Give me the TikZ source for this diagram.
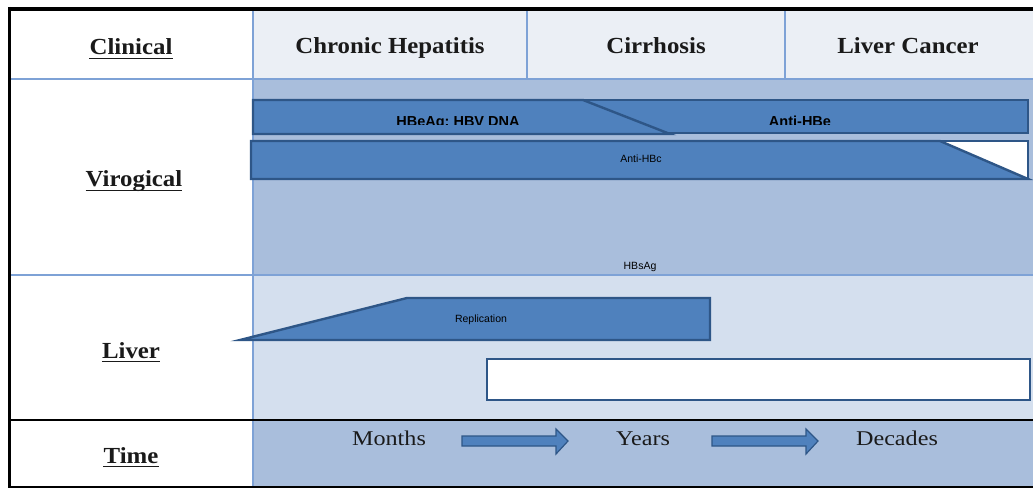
\documentclass[tikz,border=0pt]{standalone}
\usepackage{fontspec}
\setmainfont{Liberation Serif}
\newfontfamily\headfont[FakeStretch=1.08]{Liberation Serif}
\newfontfamily\timefont[FakeStretch=1.15]{Liberation Serif}
\newfontfamily\tagfont{Liberation Sans}
\definecolor{hdrfill}{HTML}{EBEFF5}
\definecolor{virofill}{HTML}{A9BEDC}
\definecolor{liverfill}{HTML}{D4DFEE}
\definecolor{barfill}{HTML}{4F81BD}
\definecolor{bardraw}{HTML}{2E5687}
\definecolor{gridblue}{HTML}{7EA2D6}
\definecolor{inktext}{HTML}{1A1A1A}
\tikzset{
  rowlabel/.style={inner sep=0pt, anchor=base, text=inktext, font=\headfont\bfseries\fontsize{23}{26}\selectfont},
  colhead/.style={inner sep=0pt, anchor=base, text=inktext, font=\headfont\bfseries\fontsize{23}{26}\selectfont},
  timelabel/.style={inner sep=0pt, anchor=base, text=inktext, font=\timefont\fontsize{21}{24}\selectfont},
  bigtag/.style={inner sep=0pt, anchor=base, text=black, font=\tagfont\bfseries\fontsize{14.5}{16}\selectfont},
  smalltag/.style={inner sep=0pt, anchor=base, text=black, font=\tagfont\fontsize{10.5}{12}\selectfont},
  bar/.style={fill=barfill, draw=bardraw, line width=2.4pt, line join=miter},
  whitebar/.style={fill=white, draw=bardraw, line width=2.4pt},
  blockarrow/.style={fill=barfill, draw=bardraw, line width=1.2pt, line join=miter},
  gridline/.style={draw=gridblue, line width=2.4pt},
  frameline/.style={draw=black, line width=2.6pt},
  uline/.style={draw=inktext, line width=1.4pt},
}
\begin{document}
\begin{tikzpicture}[x=1pt,y=-1pt]
\useasboundingbox (0,0) rectangle (1033,489);
\fill[white] (0,0) rectangle (1033,489);

% row backgrounds
\fill[hdrfill] (253,10) rectangle (1033,79);
\fill[virofill] (253,79) rectangle (1033,275);
\fill[liverfill] (253,275) rectangle (1033,420);
\fill[virofill] (253,420) rectangle (1033,487);

% grid
\draw[gridline] (10,79) -- (1033,79);
\draw[gridline] (10,275) -- (1033,275);
\draw[gridline] (253,10) -- (253,487);
\draw[gridline] (527,10) -- (527,79);
\draw[gridline] (785,10) -- (785,79);
\draw[frameline] (9,420) -- (1033,420);
\draw[frameline] (9,487) -- (1033,487);
\draw[draw=black, line width=4pt] (8,9) -- (1033,9);
\draw[draw=black, line width=3pt] (9.5,7) -- (9.5,488.3);

% column headings
\node[colhead] (chronic) at (390,54) {Chronic Hepatitis};
\node[colhead] (cirrhosis) at (656,54) {Cirrhosis};
\node[colhead] (cancer) at (908,54) {Liver Cancer};

% row headings with underlines
\node[rowlabel] (clinical) at (131,55) {Clinical};
\node[rowlabel] (virogical) at (134,187) {Virogical};
\node[rowlabel] (liver) at (131,358) {Liver};
\node[rowlabel] (time) at (131,463) {Time};
\foreach \n in {clinical,virogical,liver,time}
  \draw[uline] ([yshift=-3.6pt]\n.base west) -- ([yshift=-3.6pt]\n.base east);

% virological markers
\draw[bar] (253,100) rectangle (1028,133);
\draw[bar] (253,100) -- (583,100) -- (670,134) -- (253,134) -- cycle;
\begin{scope}
  \clip (253,100) rectangle (1028,124.5);
  \node[bigtag] (hbeag) at (458,126.5) {HBeAg; HBV DNA};
  \node[bigtag] (antihbe) at (800,126.5) {Anti-HBe};
\end{scope}
\draw[whitebar] (251,141) rectangle (1028,179);
\draw[bar] (251,141) -- (940,141) -- (1028,179) -- (251,179) -- cycle;
\node[smalltag] (antihbc) at (641,163) {Anti-HBc};
\node[smalltag] (hbsag) at (640,269) {HBsAg};

% liver activity
\draw[bar] (240,340) -- (407,298) -- (710,298) -- (710,340) -- cycle;
\node[smalltag] (replication) at (481,322) {Replication};
\draw[whitebar] (487,359) rectangle (1030,400);

% time scale
\node[timelabel] (months) at (389,445) {Months};
\node[timelabel] (years) at (643,445) {Years};
\node[timelabel] (decades) at (897,445) {Decades};
\draw[blockarrow] (462,436) -- (556,436) -- (556,429) -- (568,441) -- (556,454) -- (556,446) -- (462,446) -- cycle;
\draw[blockarrow] (712,436) -- (806,436) -- (806,429) -- (818,441) -- (806,454) -- (806,446) -- (712,446) -- cycle;
\end{tikzpicture}
\end{document}
